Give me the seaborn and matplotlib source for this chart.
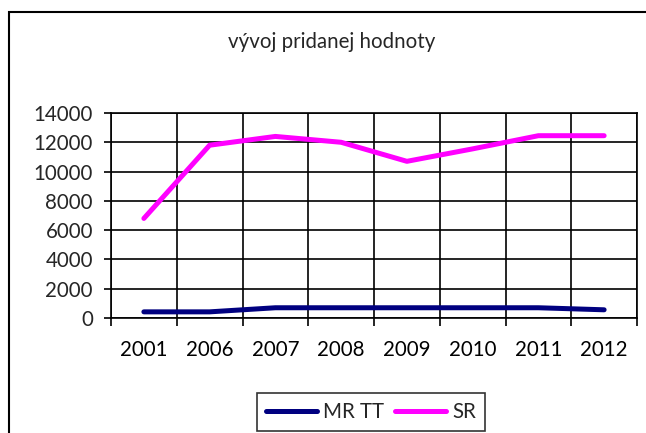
import matplotlib
matplotlib.use("Agg")
import matplotlib.pyplot as plt
import seaborn as sns
import pandas as pd
from matplotlib.patches import Rectangle
from matplotlib.lines import Line2D

years = ["2001", "2006", "2007", "2008", "2009", "2010", "2011", "2012"]
mr_tt = [420, 420, 700, 700, 700, 700, 700, 560]
sr = [6800, 11800, 12400, 12000, 10700, 11550, 12450, 12450]
series_names = ["MR TT", "SR"]
colors = {"MR TT": "#000080", "SR": "#FF00FF"}
yticks = [0, 2000, 4000, 6000, 8000, 10000, 12000, 14000]
title = "vývoj pridanej hodnoty"

sns.set_style("white")
plt.rcParams["font.family"] = ["Lato", "DejaVu Sans"]

df = pd.DataFrame({
    "year": years * 2,
    "value": mr_tt + sr,
    "series": [series_names[0]] * len(years) + [series_names[1]] * len(years),
})

fig = plt.figure(figsize=(6.46, 4.33), dpi=100)
ax = fig.add_axes([111/646, 1-318/433, (637-111)/646, (318-113)/433])

sns.lineplot(data=df, x="year", y="value", hue="series", palette=colors,
             linewidth=3.6, ax=ax, legend=False, sort=False)

fs = 14.8
n = len(years)
ax.set_xlim(-0.5, n - 0.5)
ax.set_ylim(0, 14000)
ax.set_yticks(yticks)
ax.set_yticklabels([str(v) for v in yticks])
ax.set_xticks(range(n))
ax.set_xticklabels(years)
ax.set_xticks([i - 0.5 for i in range(n + 1)], minor=True)
ax.tick_params(axis="x", which="major", length=0, pad=16, labelsize=fs, colors="black")
ax.tick_params(axis="x", which="minor", length=6, width=1.2, color="black", direction="out", bottom=True)
ax.tick_params(axis="y", which="major", length=5, width=1.2, color="black", direction="out", pad=8, labelsize=fs, left=True)
ax.grid(False)
ax.grid(True, axis="y", which="major", color="black", linewidth=1.2)
ax.grid(True, axis="x", which="minor", color="black", linewidth=1.2)
ax.set_axisbelow(True)
for sp in ax.spines.values():
    sp.set_color("black")
    sp.set_linewidth(1.2)
ax.set_xlabel("")
ax.set_ylabel("")

fig.text(332/646, 1-42/433, title, ha="center", va="center", fontsize=fs)

# outer chart border
fig.patches.append(Rectangle((9/646, -0.1), 1.2, 1 - 12/433 + 0.1, transform=fig.transFigure,
                             fill=False, edgecolor="black", linewidth=1.5, zorder=0))

handles = [Line2D([0], [0], color=colors[s], linewidth=3.6) for s in series_names]
leg = fig.legend(handles, series_names, loc="center", bbox_to_anchor=(371/646, 1-412/433),
                 ncol=2, frameon=True, fancybox=False, fontsize=fs, handlelength=2.5,
                 columnspacing=0.5, handletextpad=0.3, borderpad=0.45, borderaxespad=0)
leg.get_frame().set_edgecolor("black")
leg.get_frame().set_linewidth(1.2)

fig.savefig("out.png", dpi=100)
